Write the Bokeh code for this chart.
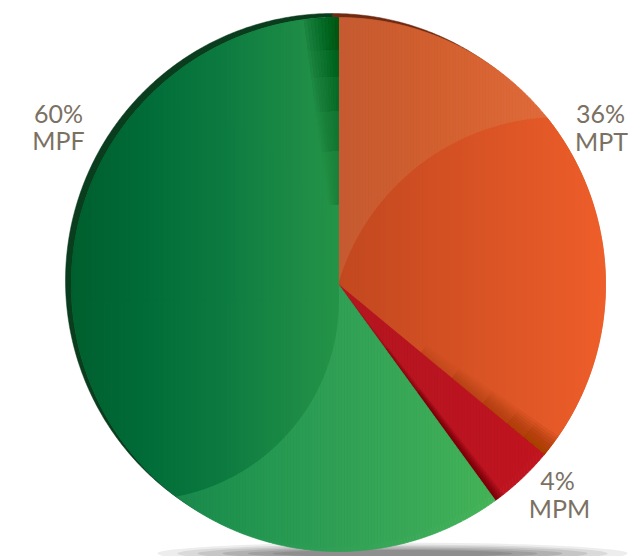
import numpy as np
from bokeh.plotting import figure
from bokeh.models import Range1d
from bokeh.embed import file_html
from bokeh.resources import INLINE
from bokeh.core.properties import value

# ---- data ----
categories = ["MPT", "MPM", "MPF"]
shares = [36, 4, 60]
pct_labels = ["36%", "4%", "60%"]

# ---- layout (screen pixels) ----
W, H = 630, 556
CX, CY, R = 338, 284, 267


def dx(px):
    return (px - CX) / R


def dy(py):
    return (CY - py) / R


p = figure(width=W, height=H, x_range=Range1d(dx(0), dx(W)),
           y_range=Range1d(dy(H), dy(0)), output_backend="svg",
           toolbar_location=None, min_border=0, outline_line_color=None,
           background_fill_color="white", border_fill_color="white")
p.axis.visible = False
p.grid.visible = False


def hex2rgb(h):
    h = h.lstrip("#")
    return [int(h[i:i + 2], 16) for i in (0, 2, 4)]


def interp_color(stops, x):
    xs = [s[0] for s in stops]
    rgbs = np.array([hex2rgb(s[1]) for s in stops], dtype=float)
    c = [int(round(np.interp(x, xs, rgbs[:, k]))) for k in range(3)]
    return "#%02x%02x%02x" % tuple(c)


def slice_poly(t0, t1, ox=0.0, oy=0.0, r=1.0, r0=0.0):
    n = max(8, int(abs(t1 - t0) * 2))
    th = np.radians(np.linspace(t0, t1, n))
    outer = [(ox + r * np.sin(t), oy + r * np.cos(t)) for t in th]
    if r0 <= 0:
        return [(ox, oy)] + outer
    inner = [(ox + r0 * np.sin(t), oy + r0 * np.cos(t)) for t in th[::-1]]
    return outer + inner


def clip_half(poly, a, b, c):
    out = []
    n = len(poly)
    for i in range(n):
        P = poly[i]
        Q = poly[(i + 1) % n]
        fp = a * P[0] + b * P[1] - c
        fq = a * Q[0] + b * Q[1] - c
        if fp <= 0:
            out.append(P)
        if fp * fq < 0:
            t = fp / (fp - fq)
            out.append((P[0] + t * (Q[0] - P[0]), P[1] + t * (Q[1] - P[1])))
    return out


def clip_circle(poly, cx, cy, rr, m=180):
    for k in range(m):
        ph = 2 * np.pi * k / m
        a, b = np.cos(ph), np.sin(ph)
        poly = clip_half(poly, a, b, a * cx + b * cy + rr)
        if not poly:
            break
    return poly


def grad_fill(poly, stops, step=3, alpha=1.0):
    if not poly:
        return
    xs_px = [CX + x * R for x, _ in poly]
    x0, x1 = int(np.floor(min(xs_px))), int(np.ceil(max(xs_px)))
    XS, YS, CS = [], [], []
    for a in range(x0, x1, step):
        s = clip_half(poly, -1, 0, -dx(a))
        s = clip_half(s, 1, 0, dx(a + step))
        if len(s) < 3:
            continue
        XS.append([q[0] for q in s])
        YS.append([q[1] for q in s])
        CS.append(interp_color(stops, a + step / 2))
    p.patches(XS, YS, fill_color=CS, line_color=CS, line_width=0.7,
              fill_alpha=alpha, line_alpha=alpha)


def soft_band(t_edge, width, color, max_alpha, radii, n=8):
    # thin wedges along a slice edge; alpha fades away from the edge and
    # towards the centre
    m = len(radii)
    for r0 in radii:
        for k in range(n):
            d = width * (k + 1) / n
            sp = slice_poly(t_edge - d, t_edge, r0=r0)
            p.patch([q[0] for q in sp], [q[1] for q in sp], fill_color=color,
                    fill_alpha=max_alpha / (n * m), line_color=None)


# ---- angles (clockwise from 12 o'clock) ----
edges = np.concatenate([[0], np.cumsum(shares)]) / 100 * 360
starts = edges[:-1]
ends = edges[1:]

# ---- bottom shadow ----
for w, h, a in [(470, 22, 0.07), (430, 18, 0.08), (390, 15, 0.09),
                (340, 12, 0.1), (290, 9, 0.1), (240, 7, 0.1)]:
    p.ellipse(x=dx(392), y=dy(553), width=w / R, height=h / R,
              fill_color="#000000", fill_alpha=a, line_color=None)

# ---- dark rim (offset copy up-left) ----
rim_cols = {"MPT": "#6e2a12", "MPM": "#5a0a10", "MPF": "#0a3d1e"}
ox, oy = -6 / R, 4 / R
for cat, t0, t1 in zip(categories, starts, ends):
    poly = slice_poly(t0, t1, ox, oy)
    p.patch([q[0] for q in poly], [q[1] for q in poly],
            fill_color=rim_cols[cat], line_color=rim_cols[cat], line_width=0.5)

for cat, t0, t1 in zip(categories, starts, ends):
    poly = slice_poly(t0, t1)
    if cat == "MPT":
        grad_fill(poly, [(338, "#c65a30"), (440, "#d3602f"), (545, "#e06a3a"), (610, "#e26a38")])
        inner = clip_circle(poly, dx(560), dy(348), 231 / R)
        grad_fill(inner, [(338, "#c2481f"), (420, "#cf4e22"), (500, "#dc5526"),
                          (560, "#e65a28"), (606, "#ee5e2a")])
        soft_band(t1, 5, "#8a2a10", 0.6, [0.4, 0.55, 0.7, 0.82, 0.9])
    elif cat == "MPM":
        grad_fill(poly, [(338, "#b41620"), (480, "#bc1420"), (560, "#c2141f")])
        soft_band(t1, 2.2, "#5a000a", 0.85, [0.05, 0.3, 0.5])
    else:
        grad_fill(poly, [(150, "#16834a"), (250, "#229650"), (338, "#30a055"),
                         (420, "#3aaa58"), (500, "#45b457")])
        dark_stops = [(72, "#005f2e"), (140, "#006b37"), (220, "#0c7a40"),
                      (300, "#1e8c46"), (345, "#259548")]
        grad_fill(clip_circle(poly, dx(139), dy(300), 199 / R), dark_stops)
        quad = clip_half(clip_half(poly, 1, 0, dx(338)), 0, -1, -dy(300))
        grad_fill(quad, dark_stops)
        soft_band(360, 7.5, "#0b3d1e", 0.75, [0.3, 0.5, 0.65, 0.78, 0.88], n=10)

# ---- labels ----
label_pos = {"MPT": ((600, 112), (601, 140)),
             "MPM": ((557, 479), (559, 507)),
             "MPF": ((58, 112), (58, 139))}
for cat, pct in zip(categories, pct_labels):
    (x1, y1), (x2, y2) = label_pos[cat]
    for txt, x, y in [(pct, x1, y1), (cat, x2, y2)]:
        p.text(x=[dx(x)], y=[dy(y)], text=[txt], text_font=value("Lato"),
               text_font_size="25px", text_color="#7b7163",
               text_align="center", text_baseline="middle")

open("out.html", "w").write(file_html(p, INLINE))
